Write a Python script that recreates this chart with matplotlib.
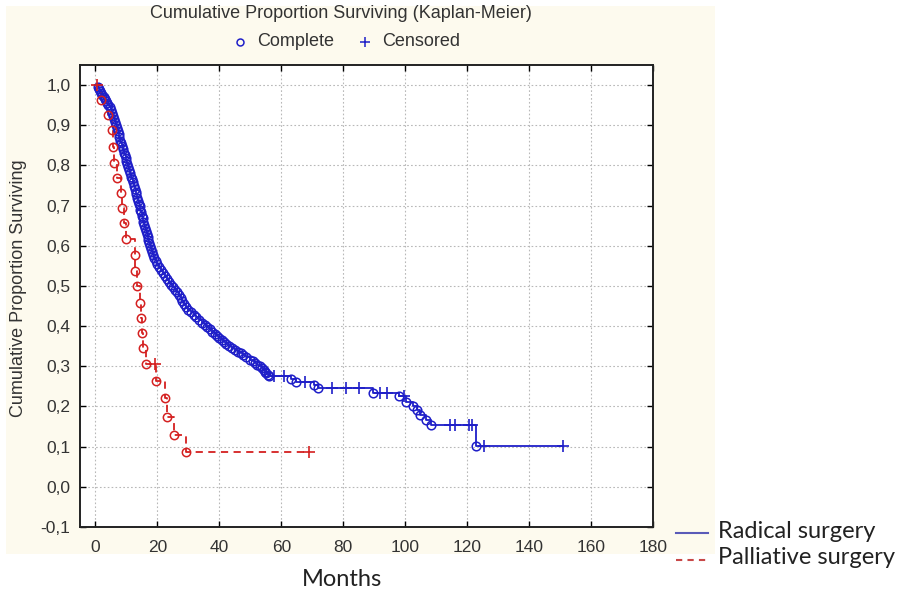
import matplotlib
matplotlib.use("Agg")
import matplotlib.pyplot as plt
from matplotlib.lines import Line2D
from matplotlib.patches import Rectangle
from matplotlib import font_manager as fm
from matplotlib.ticker import FuncFormatter

# ---------------- data ----------------
# Radical surgery: complete events (time in months, survival after the event)
rad_t = [0.8, 1.1, 1.5, 1.9, 2.2, 2.6, 3.0, 3.4, 3.8, 4.2, 4.6, 5.0, 5.4, 5.8,
         6.1, 6.4, 6.6, 6.9, 7.2, 7.5, 7.7, 8.0, 8.3, 8.6, 8.9, 9.2, 9.4, 9.7,
         9.9, 10.1, 10.4, 10.7, 11.0, 11.4, 11.7, 12.0, 12.4, 12.7, 13.0, 13.2,
         13.5, 13.8, 14.0, 14.3, 14.5, 14.8, 15.0, 15.3, 15.5, 15.8, 16.0, 16.3,
         16.5, 16.8, 17.0, 17.2, 17.5, 17.9, 18.3, 18.6, 19.0, 19.5, 20.0, 20.6,
         21.2, 21.8, 22.4, 23.0, 23.7, 24.3, 25.0, 25.7, 26.3, 26.9, 27.5, 28.0,
         28.6, 29.3, 30.0, 30.9, 31.8, 32.6, 33.5, 34.3, 35.2, 36.1, 37.0, 37.7,
         38.5, 39.2, 40.0, 40.7, 41.5, 42.2, 43.0, 44.0, 45.0, 46.0, 47.0, 47.7,
         48.5, 50.0, 50.8, 51.5, 52.2, 53.0, 53.7, 54.3, 54.8, 55.2, 55.6, 56.0,
         63.0, 64.8, 70.5, 72.0, 89.5, 98.0, 100.3, 102.4, 103.8, 104.8, 106.6,
         108.2, 123.0]
rad_s = [0.995, 0.990, 0.985, 0.980, 0.975, 0.970, 0.965, 0.960, 0.955, 0.950,
         0.945, 0.938, 0.930, 0.922, 0.915, 0.908, 0.900, 0.893, 0.885, 0.878,
         0.870, 0.862, 0.855, 0.848, 0.840, 0.832, 0.825, 0.818, 0.810, 0.803,
         0.795, 0.788, 0.780, 0.772, 0.765, 0.758, 0.750, 0.742, 0.735, 0.728,
         0.720, 0.712, 0.705, 0.698, 0.690, 0.683, 0.675, 0.668, 0.660, 0.652,
         0.645, 0.638, 0.630, 0.622, 0.615, 0.608, 0.600, 0.592, 0.585, 0.578,
         0.570, 0.562, 0.555, 0.548, 0.540, 0.532, 0.525, 0.518, 0.510, 0.503,
         0.497, 0.490, 0.485, 0.478, 0.470, 0.462, 0.455, 0.448, 0.440, 0.434,
         0.428, 0.422, 0.415, 0.409, 0.403, 0.398, 0.392, 0.386, 0.380, 0.375,
         0.370, 0.365, 0.360, 0.355, 0.350, 0.345, 0.340, 0.336, 0.332, 0.327,
         0.323, 0.316, 0.312, 0.308, 0.304, 0.300, 0.295, 0.291, 0.287, 0.283,
         0.279, 0.276, 0.268, 0.260, 0.253, 0.247, 0.234, 0.225, 0.212, 0.200,
         0.190, 0.180, 0.167, 0.154, 0.102]
# Radical surgery: censored observations
rad_ct = [57.7, 60.9, 67.5, 76.5, 81.0, 85.0, 92.0, 94.0, 99.5, 114.5, 116.0,
          120.5, 121.5, 125.5, 151.0]
rad_cs = [0.276, 0.276, 0.260, 0.247, 0.247, 0.247, 0.234, 0.234, 0.225, 0.154,
          0.154, 0.154, 0.154, 0.102, 0.102]

# Palliative surgery: complete events
pal_t = [1.8, 4.0, 5.3, 5.5, 5.9, 7.0, 8.3, 8.5, 9.1, 9.9, 12.6, 12.9, 13.4,
         14.3, 14.6, 14.9, 15.2, 16.3, 19.5, 22.6, 23.0, 25.2, 29.3]
pal_s = [0.964, 0.925, 0.888, 0.846, 0.805, 0.768, 0.731, 0.694, 0.656, 0.616,
         0.577, 0.536, 0.500, 0.458, 0.420, 0.384, 0.345, 0.306, 0.264, 0.221,
         0.175, 0.129, 0.086]
# Palliative surgery: censored observations
pal_ct = [0.6, 19.3, 68.8]
pal_cs = [1.0, 0.306, 0.086]

x_ticks = [0, 20, 40, 60, 80, 100, 120, 140, 160, 180]
y_ticks = [-0.1, 0.0, 0.1, 0.2, 0.3, 0.4, 0.5, 0.6, 0.7, 0.8, 0.9, 1.0]

# ---------------- fonts ----------------
def have(name):
    try:
        fm.findfont(fm.FontProperties(family=name), fallback_to_default=False)
        return True
    except Exception:
        return False

narrow = 'Liberation Sans Narrow' if have('Liberation Sans Narrow') else 'Liberation Sans'
arial = 'Liberation Sans'
calibri = 'Lato' if have('Lato') else 'DejaVu Sans'

W, H = 901, 598
fig = plt.figure(figsize=(W / 100, H / 100), dpi=100)
fig.patch.set_facecolor('white')

def fx(px):
    return px / W

def fy(py):
    return 1 - py / H

# cream panel
fig.add_artist(Rectangle((fx(6), fy(554)), fx(715) - fx(6), fy(6) - fy(554),
                         transform=fig.transFigure, facecolor='#FDFAEE',
                         edgecolor='none', zorder=0))

ax = fig.add_axes([fx(80), fy(527), fx(653) - fx(80), fy(65) - fy(527)])
ax.set_facecolor('white')
ax.set_xlim(-5, 180)
ax.set_ylim(-0.1, 1.05)

blue = '#1F1FC8'
red = '#D42020'

def km_line(t, s, ct, cs):
    pts = sorted([(0.0, 1.0)] + list(zip(t, s)) + list(zip(ct, cs)))
    return [p[0] for p in pts], [p[1] for p in pts]

xs, ys = km_line(rad_t, rad_s, rad_ct, rad_cs)
ax.step(xs, ys, where='post', color=blue, lw=1.3, zorder=3)
ax.plot(rad_t, rad_s, linestyle='none', marker='o', mfc='none', mec=blue,
        ms=6.2, mew=1.1, zorder=4)
ax.plot(rad_ct, rad_cs, linestyle='none', marker='+', color=blue, ms=8, mew=1.2,
        zorder=4)

xs, ys = km_line(pal_t, pal_s, pal_ct, pal_cs)
ax.step(xs, ys, where='post', color=red, lw=1.3, ls=(0, (4, 3)), zorder=3)
ax.plot(pal_t, pal_s, linestyle='none', marker='o', mfc='none', mec=red,
        ms=6.0, mew=1.1, zorder=4)
ax.plot(pal_ct, pal_cs, linestyle='none', marker='+', color=red, ms=8, mew=1.2,
        zorder=4)

ax.set_xticks(x_ticks)
ax.set_yticks(y_ticks)
ax.yaxis.set_major_formatter(FuncFormatter(
    lambda v, p: f"{v:.1f}".replace('.', ',').replace('-0,0', '0,0')))
ax.grid(True, color='#B8B8B8', linestyle=(0, (1.5, 2)), linewidth=0.8, zorder=1)
ax.tick_params(direction='in', top=True, right=True, length=4, width=1,
               labelsize=12.5, labelcolor='#333333')
ax.tick_params(axis='x', pad=9)
ax.tick_params(axis='y', pad=7)
for lab in ax.get_xticklabels() + ax.get_yticklabels():
    lab.set_family(narrow)
for sp in ax.spines.values():
    sp.set_linewidth(1.4)
    sp.set_color('#222222')

# y label
fig.text(fx(19), fy(288), 'Cumulative Proportion Surviving', rotation=90,
         ha='center', va='center', fontsize=13, family=arial, color='#333333')

# title
fig.text(fx(341), fy(14), 'Cumulative Proportion Surviving (Kaplan-Meier)',
         ha='center', va='center', fontsize=13, family=narrow, color='#333333')

# top legend
fig.add_artist(Line2D([fx(240)], [fy(42)], transform=fig.transFigure, marker='o',
                      mfc='none', mec=blue, ms=5, mew=1.1, linestyle='none'))
fig.text(fx(257), fy(42), 'Complete', ha='left', va='center', fontsize=13,
         family=narrow, color='#333333')
fig.add_artist(Line2D([fx(365)], [fy(42)], transform=fig.transFigure, marker='+',
                      color=blue, ms=7, mew=1.1, linestyle='none'))
fig.text(fx(382), fy(42), 'Censored', ha='left', va='center', fontsize=13,
         family=narrow, color='#333333')

# bottom-right legend
fig.add_artist(Line2D([fx(676), fx(708)], [fy(533), fy(533)], transform=fig.transFigure,
                      color='#5A5AB8', lw=1.5))
fig.text(fx(718), fy(531), 'Radical surgery', ha='left', va='center', fontsize=17,
         family=calibri, color='#222222')
fig.add_artist(Line2D([fx(676), fx(708)], [fy(560), fy(560)], transform=fig.transFigure,
                      color='#C84848', lw=1.5, ls=(0, (3, 2.5))))
fig.text(fx(718), fy(558), 'Palliative surgery', ha='left', va='center', fontsize=17,
         family=calibri, color='#222222')

# x label
fig.text(fx(342), fy(580), 'Months', ha='center', va='center', fontsize=17,
         family=calibri, color='#222222')

fig.savefig('out.png', dpi=100, facecolor='white')
